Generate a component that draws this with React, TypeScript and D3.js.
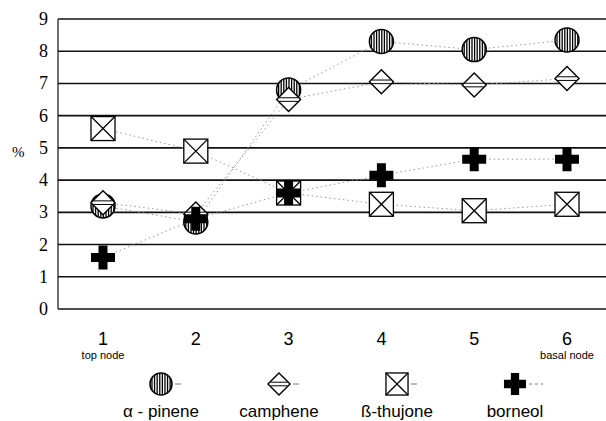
import React from "react";
import * as d3 from "d3";

const nodes = [1, 2, 3, 4, 5, 6];
const yTicks = [0, 1, 2, 3, 4, 5, 6, 7, 8, 9];
const pinene = [3.2, 2.7, 6.8, 8.3, 8.05, 8.35];
const camphene = [3.3, 2.95, 6.5, 7.05, 6.95, 7.15];
const thujone = [5.6, 4.9, 3.6, 3.25, 3.05, 3.25];
const borneol = [1.6, 2.8, 3.6, 4.15, 4.65, 4.65];
const seriesNames = ["\u03b1 - pinene", "camphene", "\u00df-thujone", "borneol"];

const W = 606;
const H = 421;
const x = d3.scaleLinear().domain([1, 6]).range([103, 567]);
const y = d3.scaleLinear().domain([0, 9]).range([309, 19]);
const legendX = d3.scalePoint<number>().domain([0, 1, 2, 3]).range([161, 515]);

// marker glyphs, drawn round (0,0)
function Marker({ kind, s = 1 }: { kind: number; s?: number }) {
  if (kind === 0) {
    const r = 12 * s;
    const stripes = d3.range(-r + 2, r, 2.6);
    return (
      <g>
        <circle r={r} fill="#fff" stroke="#000" strokeWidth={1.5} />
        <clipPath id={"cc" + s}>
          <circle r={r} />
        </clipPath>
        <g clipPath={`url(#cc${s})`}>
          {stripes.map((v, i) => (
            <line key={i} x1={v} x2={v} y1={-r} y2={r} stroke="#000" strokeWidth={1.3} />
          ))}
        </g>
      </g>
    );
  }
  if (kind === 1) {
    const h = 12 * s;
    return (
      <g>
        <path d={`M0,${-h}L${h},0L0,${h}L${-h},0Z`} fill="#fff" stroke="#000" strokeWidth={1.4} />
        <line x1={-h + 2.5} x2={h - 2.5} y1={-1.8} y2={-1.8} stroke="#000" strokeWidth={1} />
        <line x1={-h + 2.5} x2={h - 2.5} y1={1.8} y2={1.8} stroke="#000" strokeWidth={1} />
      </g>
    );
  }
  if (kind === 2) {
    const h = 12 * s;
    return (
      <g stroke="#000" strokeWidth={1.3}>
        <rect x={-h} y={-h} width={2 * h} height={2 * h} fill="#fff" />
        <line x1={-h} y1={-h} x2={h} y2={h} />
        <line x1={-h} y1={h} x2={h} y2={-h} />
      </g>
    );
  }
  const a = 12 * s;
  const t = 4.5 * s;
  return (
    <path
      d={`M${-t},${-a}H${t}V${-t}H${a}V${t}H${t}V${a}H${-t}V${t}H${-a}V${-t}H${-t}Z`}
      fill="#000"
    />
  );
}

export default function App() {
  const series = [pinene, camphene, thujone, borneol];
  const line = d3
    .line<number>()
    .x((d, i) => x(nodes[i]))
    .y((d) => y(d));

  return (
    <svg
      width={W}
      height={H}
      style={{ position: "absolute", left: 0, top: 0, background: "#fff" }}
    >
      <rect width={W} height={H} fill="#fff" />
      {yTicks.map((t) => (
        <g key={t}>
          <line x1={58} x2={W} y1={y(t)} y2={y(t)} stroke="#111" strokeWidth={1.6} />
          <text
            x={48}
            y={y(t) + 6}
            textAnchor="end"
            fontFamily="Liberation Serif, serif"
            fontSize={18}
          >
            {t}
          </text>
        </g>
      ))}
      <line x1={58} x2={58} y1={y(9)} y2={y(0)} stroke="#111" strokeWidth={1.2} />
      <text x={12} y={157} fontFamily="Liberation Serif, serif" fontSize={15}>
        %
      </text>

      {nodes.map((n) => (
        <text
          key={n}
          x={x(n)}
          y={345}
          textAnchor="middle"
          fontFamily="Liberation Sans, Arial, sans-serif"
          fontSize={18}
        >
          {n}
        </text>
      ))}
      <text x={x(1)} y={359} textAnchor="middle" fontFamily="Liberation Sans, sans-serif" fontSize={11}>
        top node
      </text>
      <text x={x(6)} y={359} textAnchor="middle" fontFamily="Liberation Sans, sans-serif" fontSize={11}>
        basal node
      </text>

      {series.map((s, k) => (
        <path
          key={k}
          d={line(s) || ""}
          fill="none"
          stroke="#999"
          strokeWidth={1}
          strokeDasharray="1.5 3"
        />
      ))}
      {series.map((s, k) =>
        s.map((v, i) => (
          <g key={k + "-" + i} transform={`translate(${x(nodes[i])},${y(v)})`}>
            <Marker kind={k} />
          </g>
        ))
      )}

      {seriesNames.map((name, k) => (
        <g key={name}>
          <line
            x1={(legendX(k) || 0) + 14}
            x2={(legendX(k) || 0) + (k === 3 ? 28 : 20)}
            y1={384}
            y2={384}
            stroke="#777"
            strokeWidth={1}
            strokeDasharray={k === 3 ? "3 3" : "none"}
          />
          <g transform={`translate(${legendX(k)},384)`}>
            <Marker kind={k} s={0.92} />
          </g>
          <text
            x={legendX(k)}
            y={417}
            textAnchor="middle"
            fontFamily="Liberation Sans, Arial, sans-serif"
            fontSize={17}
          >
            {name}
          </text>
        </g>
      ))}
    </svg>
  );
}
